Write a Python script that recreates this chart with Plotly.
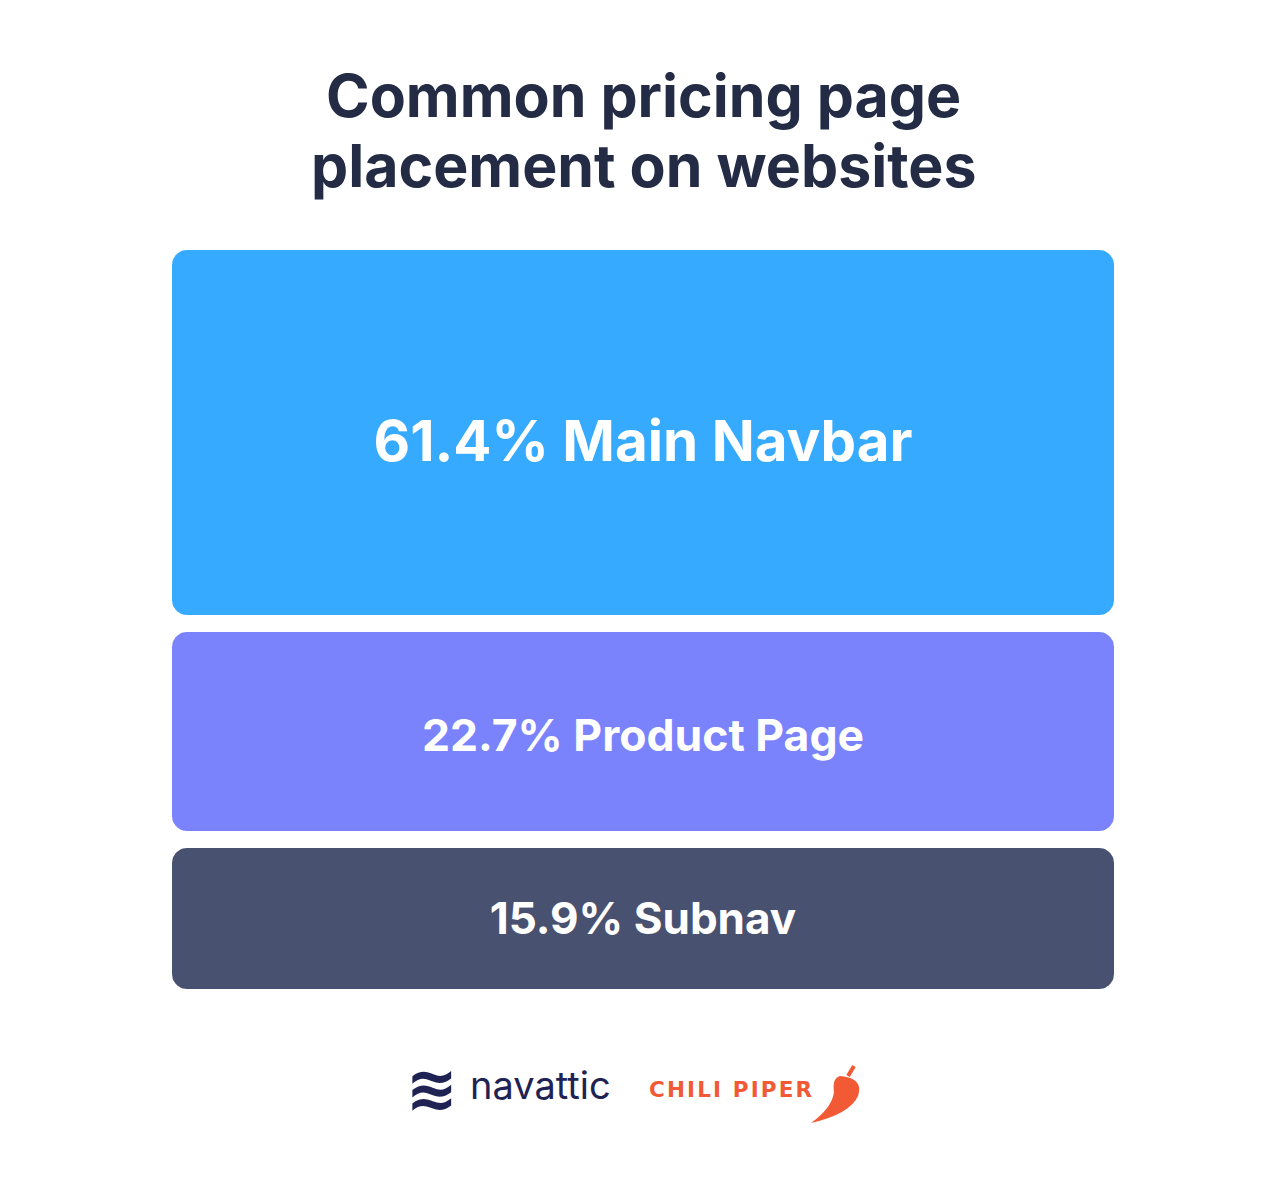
import numpy as np
import plotly.graph_objects as go

# ---- data ----
categories = ["Main Navbar", "Product Page", "Subnav"]
shares = [61.4, 22.7, 15.9]
colors = ["#36AAFE", "#7A82FC", "#48516F"]

title_lines = ["Common pricing page", "placement on websites"]

# ---- layout constants (pixel-like axis units) ----
W, H = 1288, 1178
OFF = 8                          # page body margin
X0, X1 = 172, 1114
TOP = 250
GAP = 17
BLOCK_H = [365, 199, 141]      # visual block heights
LABEL_SIZE = [56.5, 44.5, 44]
LABEL_DY = [14, 8, 4]
RADIUS = 15


def rounded_rect(x0, y0, x1, y1, r, n=12):
    xs, ys = [], []
    corners = [
        (x1 - r, y0 + r, -np.pi / 2, 0),
        (x1 - r, y1 - r, 0, np.pi / 2),
        (x0 + r, y1 - r, np.pi / 2, np.pi),
        (x0 + r, y0 + r, np.pi, 1.5 * np.pi),
    ]
    for cx, cy, a0, a1 in corners:
        t = np.linspace(a0, a1, n)
        xs.extend(cx + r * np.cos(t))
        ys.extend(cy + r * np.sin(t))
    xs.append(xs[0])
    ys.append(ys[0])
    return xs, ys


fig = go.Figure()

y = TOP
for cat, val, col, h, fs, dy in zip(categories, shares, colors, BLOCK_H, LABEL_SIZE, LABEL_DY):
    xs, ys = rounded_rect(X0, y, X1, y + h, RADIUS)
    fig.add_trace(go.Scatter(x=xs, y=ys, fill="toself", fillcolor=col,
                             line=dict(width=0, color=col), mode="lines",
                             hoverinfo="skip", showlegend=False))
    fig.add_trace(go.Scatter(x=[(X0 + X1) / 2], y=[y + h / 2 + dy], mode="text",
                             text=[f"<b>{val}% {cat}</b>"],
                             textfont=dict(family="Inter", size=fs, color="white"),
                             hovertemplate=f"{cat}: {val}%<extra></extra>",
                             showlegend=False))
    y += h + GAP

# title
for i, line in enumerate(title_lines):
    fig.add_annotation(x=(X0 + X1) / 2, y=95 + i * 70, text=f"<b>{line}</b>", showarrow=False,
                       xanchor="center", yanchor="middle",
                       font=dict(family="Inter", size=59, color="#232B45"))

# logos
fig.add_annotation(x=432, y=1088, text="<b>≋</b>", showarrow=False, xanchor="center", yanchor="middle",
                   font=dict(family="DejaVu Sans", size=62, color="#1F2354"))
fig.add_annotation(x=468, y=1085, text="navattic", showarrow=False, xanchor="left", yanchor="middle",
                   font=dict(family="Inter", size=38, color="#1F2354"))
hs = "\u200a"
fig.add_annotation(x=647, y=1089, text="<b>" + hs.join("CHILI PIPER") + "</b>", showarrow=False,
                   xanchor="left", yanchor="middle",
                   font=dict(family="DejaVu Sans", size=21.5, color="#F25A36"))
# pepper icon
fig.add_shape(type="path", xref="x", yref="y",
              path="M 840 1076 Q 864 1078 858 1096 Q 850 1114 811 1123 Q 832 1108 834 1092 Q 832 1078 840 1076 Z",
              fillcolor="#F25A36", line=dict(width=0))
fig.add_shape(type="line", xref="x", yref="y", x0=848, y0=1076, x1=854, y1=1066,
              line=dict(color="#F25A36", width=4))

fig.update_xaxes(range=[OFF, W + OFF], visible=False, fixedrange=True)
fig.update_yaxes(range=[H + OFF, OFF], visible=False, fixedrange=True)
fig.update_layout(width=W, height=H, margin=dict(l=0, r=0, t=0, b=0),
                  plot_bgcolor="white", paper_bgcolor="white")

fig.write_html("out.html")
